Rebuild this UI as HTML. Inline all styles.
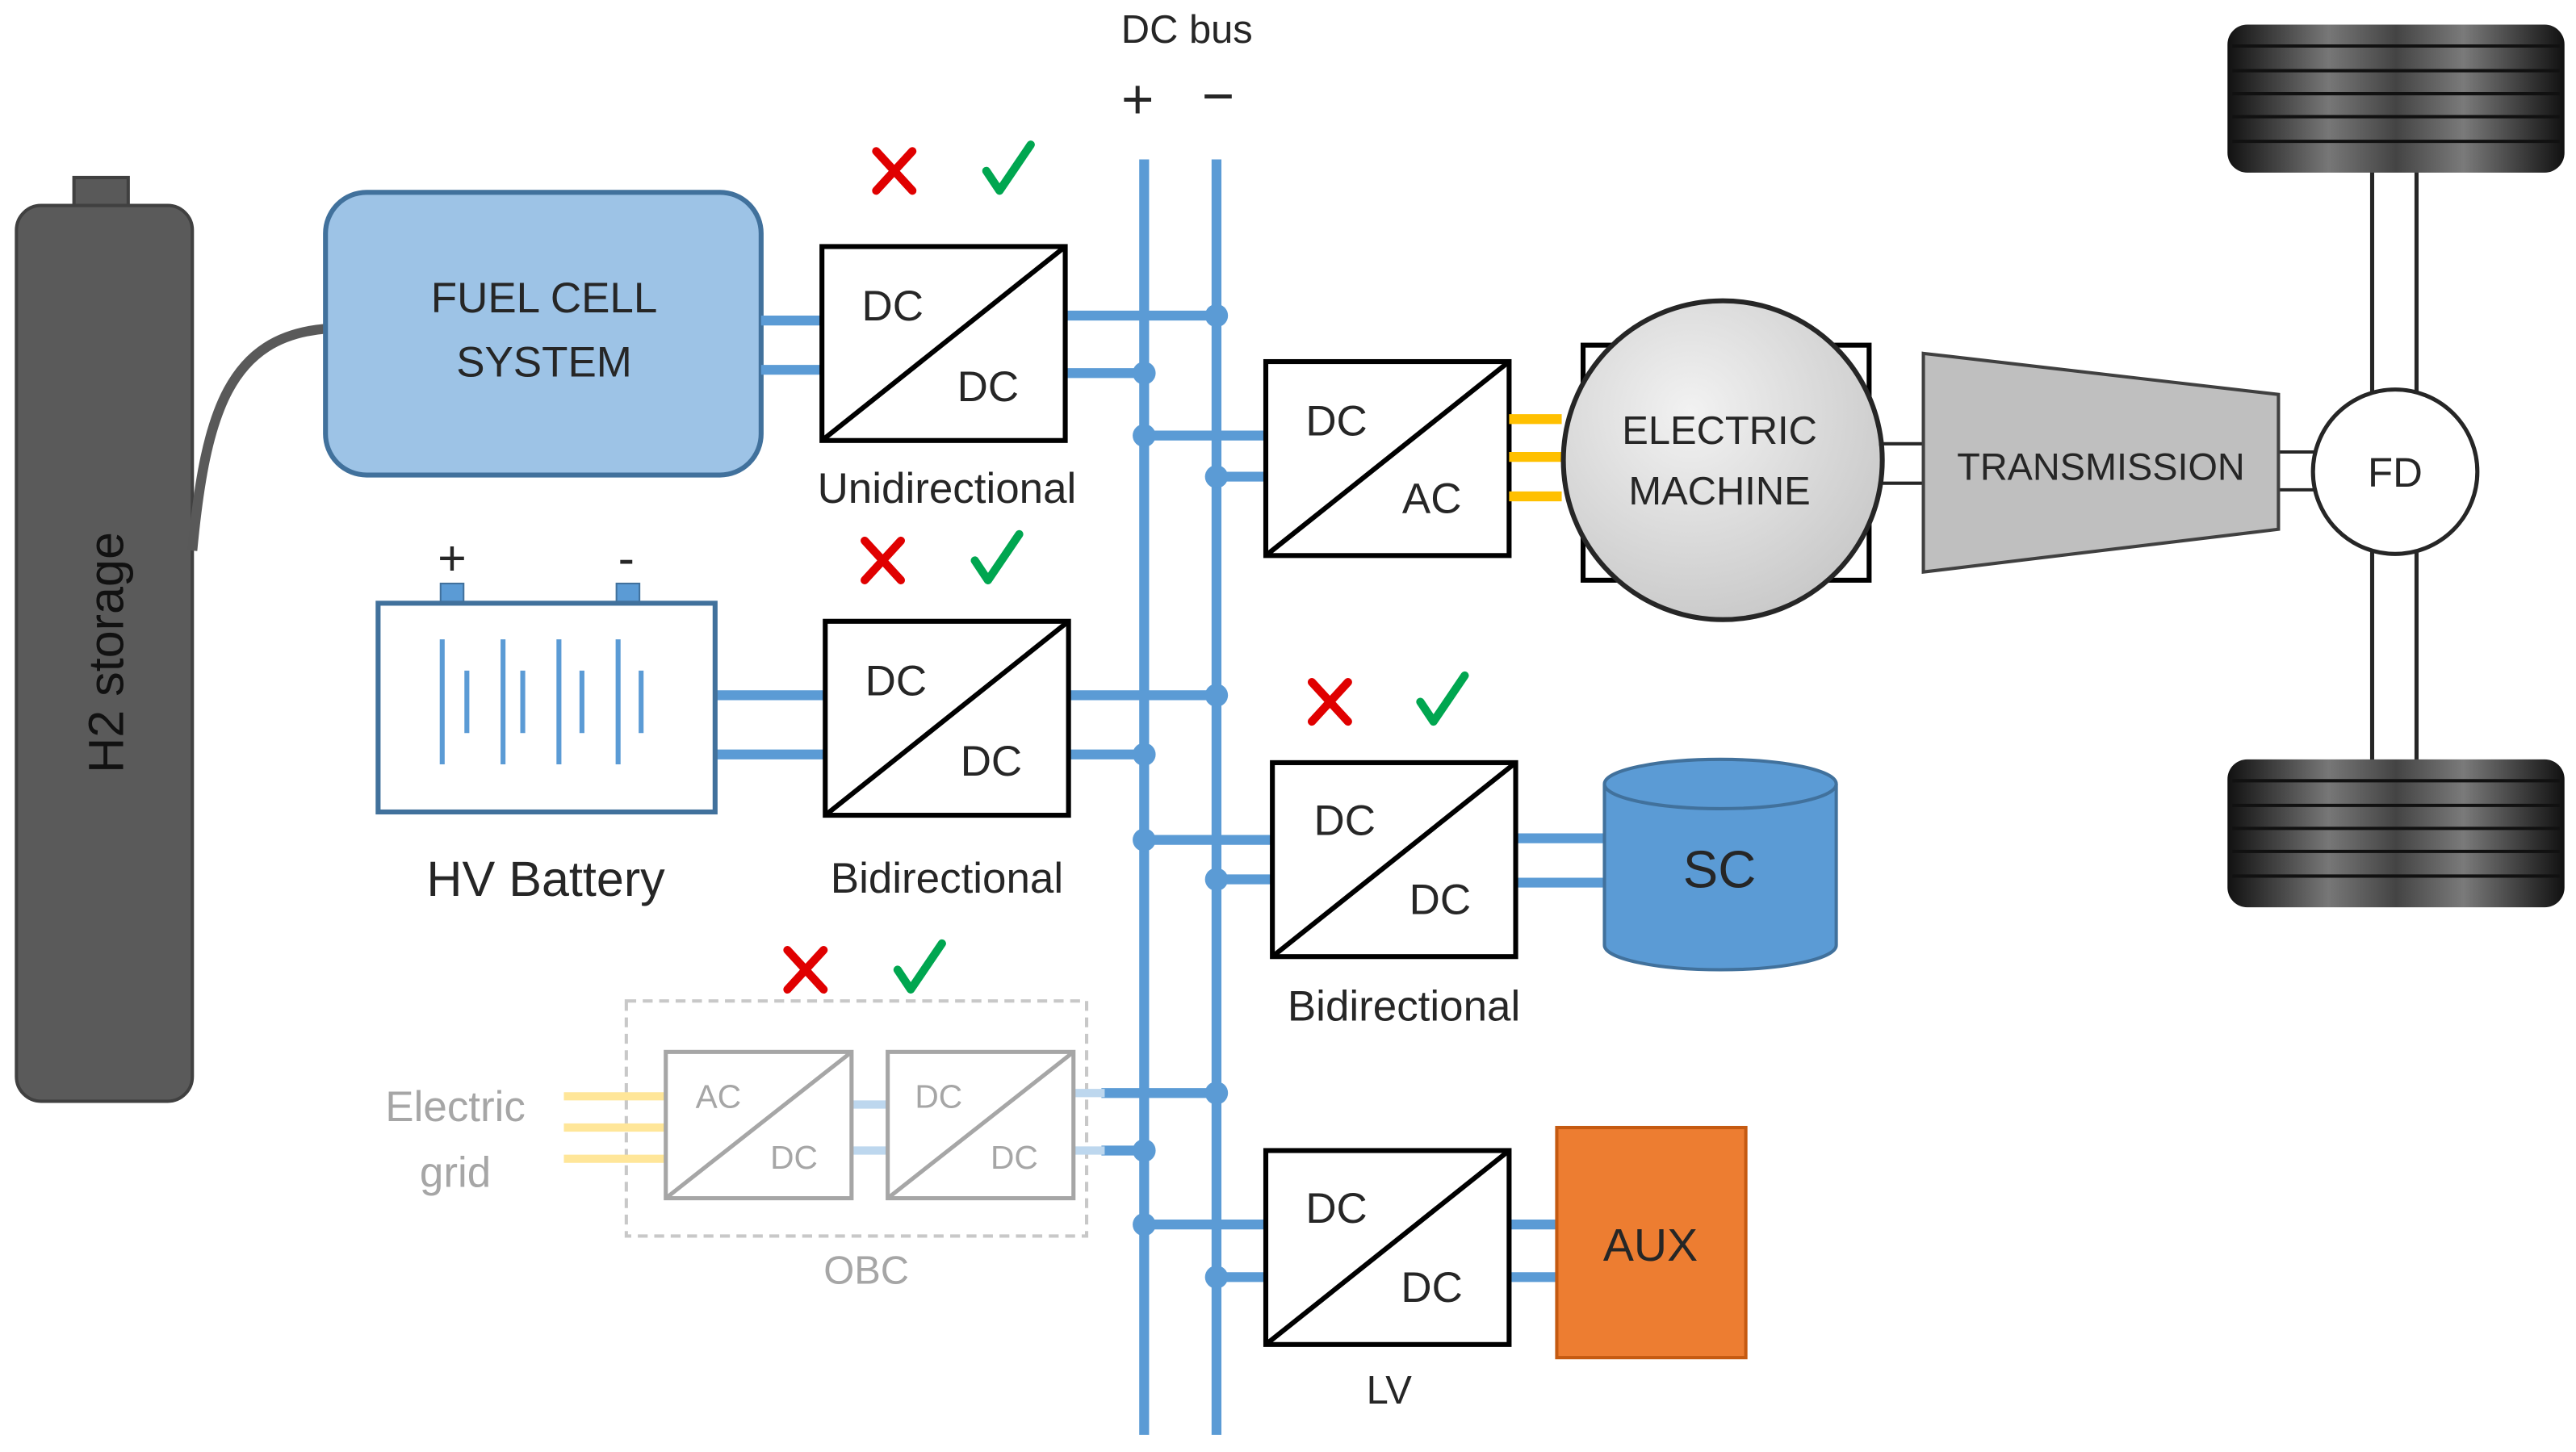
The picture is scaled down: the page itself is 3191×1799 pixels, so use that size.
<!DOCTYPE html>
<html><head><meta charset="utf-8"><style>
html,body{margin:0;padding:0;background:#fff;}
svg{display:block;}
text{font-family:"Liberation Sans",sans-serif;fill:#262626;text-anchor:middle;}
</style></head><body>
<svg width="3191" height="1799" viewBox="0 0 1567 883.4" preserveAspectRatio="none" xmlns="http://www.w3.org/2000/svg">
<defs>
<linearGradient id="tire" x1="0" y1="0" x2="1" y2="0">
<stop offset="0" stop-color="#111"/><stop offset="0.3" stop-color="#777"/><stop offset="0.5" stop-color="#444"/><stop offset="0.7" stop-color="#7a7a7a"/><stop offset="1" stop-color="#111"/>
</linearGradient>
<radialGradient id="em" cx="0.4" cy="0.35" r="0.7"><stop offset="0" stop-color="#f2f2f2"/><stop offset="1" stop-color="#c8c8c8"/></radialGradient>
<g id="xm"><line x1="-11" y1="-12" x2="11" y2="12" stroke="#e00000" stroke-width="5" stroke-linecap="round"/><line x1="11" y1="-12" x2="-11" y2="12" stroke="#e00000" stroke-width="5" stroke-linecap="round"/></g>
<g id="ck"><path d="M-13,2 L-5,14 L14,-14" fill="none" stroke="#00a650" stroke-width="5" stroke-linecap="round" stroke-linejoin="round"/></g>
</defs>
<rect width="1567" height="883.4" fill="#fff"/>

<!-- H2 tank -->
<rect x="45" y="108" width="33" height="22" fill="#595959" stroke="#404040" stroke-width="2"/>
<rect x="10" y="125" width="107" height="545" rx="15" fill="#5a5a5a" stroke="#404040" stroke-width="2"/>
<text x="0" y="0" transform="translate(75,397) rotate(-90)" font-size="30" style="fill:#111">H2 storage</text>
<path d="M117,335 C125,250 140,205 198,200" fill="none" stroke="#595959" stroke-width="6"/>

<!-- Fuel cell -->
<rect x="198" y="117" width="265" height="172" rx="25" fill="#9dc3e6" stroke="#41719c" stroke-width="3"/>
<text x="331" y="190" font-size="26">FUEL CELL</text>
<text x="331" y="229" font-size="26">SYSTEM</text>

<!-- bus -->
<g stroke="#5b9bd5" stroke-width="6" fill="none">
<line x1="696" y1="97" x2="696" y2="873"/>
<line x1="740" y1="97" x2="740" y2="873"/>
<line x1="463" y1="195" x2="500" y2="195"/><line x1="463" y1="225" x2="500" y2="225"/>
<line x1="648" y1="192" x2="740" y2="192"/><line x1="648" y1="227" x2="696" y2="227"/>
<line x1="696" y1="265" x2="770" y2="265"/><line x1="740" y1="290" x2="770" y2="290"/>
<line x1="435" y1="423" x2="502" y2="423"/><line x1="435" y1="459" x2="502" y2="459"/>
<line x1="650" y1="423" x2="740" y2="423"/><line x1="650" y1="459" x2="696" y2="459"/>
<line x1="696" y1="511" x2="774" y2="511"/><line x1="740" y1="535" x2="774" y2="535"/>
<line x1="922" y1="510" x2="976" y2="510"/><line x1="922" y1="537" x2="976" y2="537"/>
<line x1="670" y1="665" x2="740" y2="665"/><line x1="670" y1="700" x2="696" y2="700"/>
<line x1="696" y1="745" x2="770" y2="745"/><line x1="740" y1="777" x2="770" y2="777"/>
<line x1="918" y1="745" x2="947" y2="745"/><line x1="918" y1="777" x2="947" y2="777"/>
</g>
<g fill="#5b9bd5">
<circle cx="740" cy="192" r="7"/><circle cx="696" cy="227" r="7"/><circle cx="696" cy="265" r="7"/><circle cx="740" cy="290" r="7"/>
<circle cx="740" cy="423" r="7"/><circle cx="696" cy="459" r="7"/><circle cx="696" cy="511" r="7"/><circle cx="740" cy="535" r="7"/>
<circle cx="740" cy="665" r="7"/><circle cx="696" cy="700" r="7"/><circle cx="696" cy="745" r="7"/><circle cx="740" cy="777" r="7"/>
</g>
<text x="722" y="26" font-size="24">DC bus</text>
<text x="692" y="72" font-size="34">+</text>
<text x="741" y="70" font-size="34">−</text>

<!-- converter boxes -->
<g stroke="#000" stroke-width="3" fill="#fff">
<rect x="500" y="150" width="148" height="118"/><line x1="500" y1="268" x2="648" y2="150"/>
<rect x="770" y="220" width="148" height="118"/><line x1="770" y1="338" x2="918" y2="220"/>
<rect x="502" y="378" width="148" height="118"/><line x1="502" y1="496" x2="650" y2="378"/>
<rect x="774" y="464" width="148" height="118"/><line x1="774" y1="582" x2="922" y2="464"/>
<rect x="770" y="700" width="148" height="118"/><line x1="770" y1="818" x2="918" y2="700"/>
</g>
<g font-size="26">
<text x="543" y="195">DC</text><text x="601" y="244">DC</text>
<text x="813" y="265">DC</text><text x="871" y="312">AC</text>
<text x="545" y="423">DC</text><text x="603" y="472">DC</text>
<text x="818" y="508">DC</text><text x="876" y="556">DC</text>
<text x="813" y="744">DC</text><text x="871" y="792">DC</text>
<text x="576" y="306">Unidirectional</text>
<text x="576" y="543">Bidirectional</text>
<text x="854" y="621">Bidirectional</text>
<text x="845" y="854" font-size="24">LV</text>
</g>

<!-- x / check marks -->
<use href="#xm" x="544" y="104"/><use href="#ck" x="613" y="102"/>
<use href="#xm" x="537" y="341"/><use href="#ck" x="606" y="339"/>
<use href="#xm" x="809" y="427"/><use href="#ck" x="877" y="425"/>
<use href="#xm" x="490" y="590"/><use href="#ck" x="559" y="588"/>

<!-- Electric machine -->
<rect x="963" y="210" width="174" height="143" fill="#fff" stroke="#000" stroke-width="3"/>
<g stroke="#ffc000" stroke-width="6"><line x1="918" y1="255" x2="950" y2="255"/><line x1="918" y1="278" x2="950" y2="278"/><line x1="918" y1="302" x2="950" y2="302"/></g>
<circle cx="1048" cy="280" r="97" fill="url(#em)" stroke="#262626" stroke-width="3"/>
<text x="1046" y="270" font-size="24">ELECTRIC</text>
<text x="1046" y="307" font-size="24">MACHINE</text>
<g stroke="#262626" stroke-width="2"><line x1="1143" y1="270" x2="1172" y2="270"/><line x1="1143" y1="294" x2="1172" y2="294"/>
<line x1="1386" y1="275" x2="1410" y2="275"/><line x1="1386" y1="298" x2="1410" y2="298"/></g>
<polygon points="1170,215 1386,240 1386,322 1170,348" fill="#bfbfbf" stroke="#404040" stroke-width="2"/>
<text x="1278" y="292" font-size="23">TRANSMISSION</text>

<!-- axle and wheels -->
<g stroke="#262626" stroke-width="2.5"><line x1="1443" y1="100" x2="1443" y2="240"/><line x1="1470" y1="100" x2="1470" y2="240"/>
<line x1="1443" y1="335" x2="1443" y2="465"/><line x1="1470" y1="335" x2="1470" y2="465"/></g>
<circle cx="1457" cy="287" r="50" fill="#fff" stroke="#262626" stroke-width="2.5"/>
<text x="1457" y="296" font-size="25">FD</text>
<rect x="1355" y="15" width="205" height="90" rx="12" fill="url(#tire)"/>
<rect x="1355" y="462" width="205" height="90" rx="12" fill="url(#tire)"/>
<g stroke="#111" stroke-width="2">
<line x1="1358" y1="28" x2="1557" y2="28"/><line x1="1358" y1="43" x2="1557" y2="43"/><line x1="1358" y1="57" x2="1557" y2="57"/><line x1="1358" y1="71" x2="1557" y2="71"/><line x1="1358" y1="86" x2="1557" y2="86"/>
<line x1="1358" y1="475" x2="1557" y2="475"/><line x1="1358" y1="490" x2="1557" y2="490"/><line x1="1358" y1="504" x2="1557" y2="504"/><line x1="1358" y1="518" x2="1557" y2="518"/><line x1="1358" y1="533" x2="1557" y2="533"/>
</g>

<!-- Battery -->
<rect x="268" y="355" width="14" height="14" fill="#5b9bd5" stroke="#41719c"/>
<rect x="375" y="355" width="14" height="14" fill="#5b9bd5" stroke="#41719c"/>
<rect x="230" y="367" width="205" height="127" fill="#fff" stroke="#41719c" stroke-width="3"/>
<g stroke="#5b9bd5" stroke-width="3">
<line x1="269" y1="389" x2="269" y2="465"/><line x1="306" y1="389" x2="306" y2="465"/><line x1="340" y1="389" x2="340" y2="465"/><line x1="376" y1="389" x2="376" y2="465"/>
<line x1="284" y1="408" x2="284" y2="446"/><line x1="318" y1="408" x2="318" y2="446"/><line x1="354" y1="408" x2="354" y2="446"/><line x1="390" y1="408" x2="390" y2="446"/>
</g>
<text x="275" y="350" font-size="30">+</text>
<text x="381" y="350" font-size="30">-</text>
<text x="332" y="545" font-size="30">HV Battery</text>

<!-- SC -->
<path d="M976,477 L976,575 A70.5,15 0 0 0 1117,575 L1117,477" fill="#5b9bd5" stroke="#41719c" stroke-width="2"/>
<ellipse cx="1046.5" cy="477" rx="70.5" ry="15" fill="#5b9bd5" stroke="#41719c" stroke-width="2"/>
<text x="1046" y="540" font-size="32">SC</text>

<!-- OBC -->
<rect x="381" y="609" width="280" height="143" fill="none" stroke="#c8c8c8" stroke-width="2" stroke-dasharray="6,4"/>
<g stroke="#ffe699" stroke-width="5"><line x1="343" y1="667" x2="415" y2="667"/><line x1="343" y1="686" x2="415" y2="686"/><line x1="343" y1="705" x2="415" y2="705"/></g>
<g stroke="#bdd7ee" stroke-width="5"><line x1="518" y1="672" x2="540" y2="672"/><line x1="518" y1="700" x2="540" y2="700"/>
<line x1="653" y1="665" x2="672" y2="665"/><line x1="653" y1="700" x2="672" y2="700"/></g>
<g stroke="#a6a6a6" stroke-width="2.5" fill="#fff">
<rect x="405" y="640" width="113" height="89"/><line x1="405" y1="729" x2="518" y2="640"/>
<rect x="540" y="640" width="113" height="89"/><line x1="540" y1="729" x2="653" y2="640"/>
</g>
<g font-size="20">
<text x="437" y="674" style="fill:#a6a6a6">AC</text><text x="483" y="711" style="fill:#a6a6a6">DC</text>
<text x="571" y="674" style="fill:#a6a6a6">DC</text><text x="617" y="711" style="fill:#a6a6a6">DC</text>
</g>
<text x="277" y="682" font-size="26" style="fill:#a6a6a6">Electric</text>
<text x="277" y="722" font-size="26" style="fill:#a6a6a6">grid</text>
<text x="527" y="781" font-size="24" style="fill:#a6a6a6">OBC</text>

<!-- AUX -->
<rect x="947" y="686" width="115" height="140" fill="#ed7d31" stroke="#c55a11" stroke-width="2"/>
<text x="1004" y="767" font-size="28">AUX</text>
</svg>
</body></html>
